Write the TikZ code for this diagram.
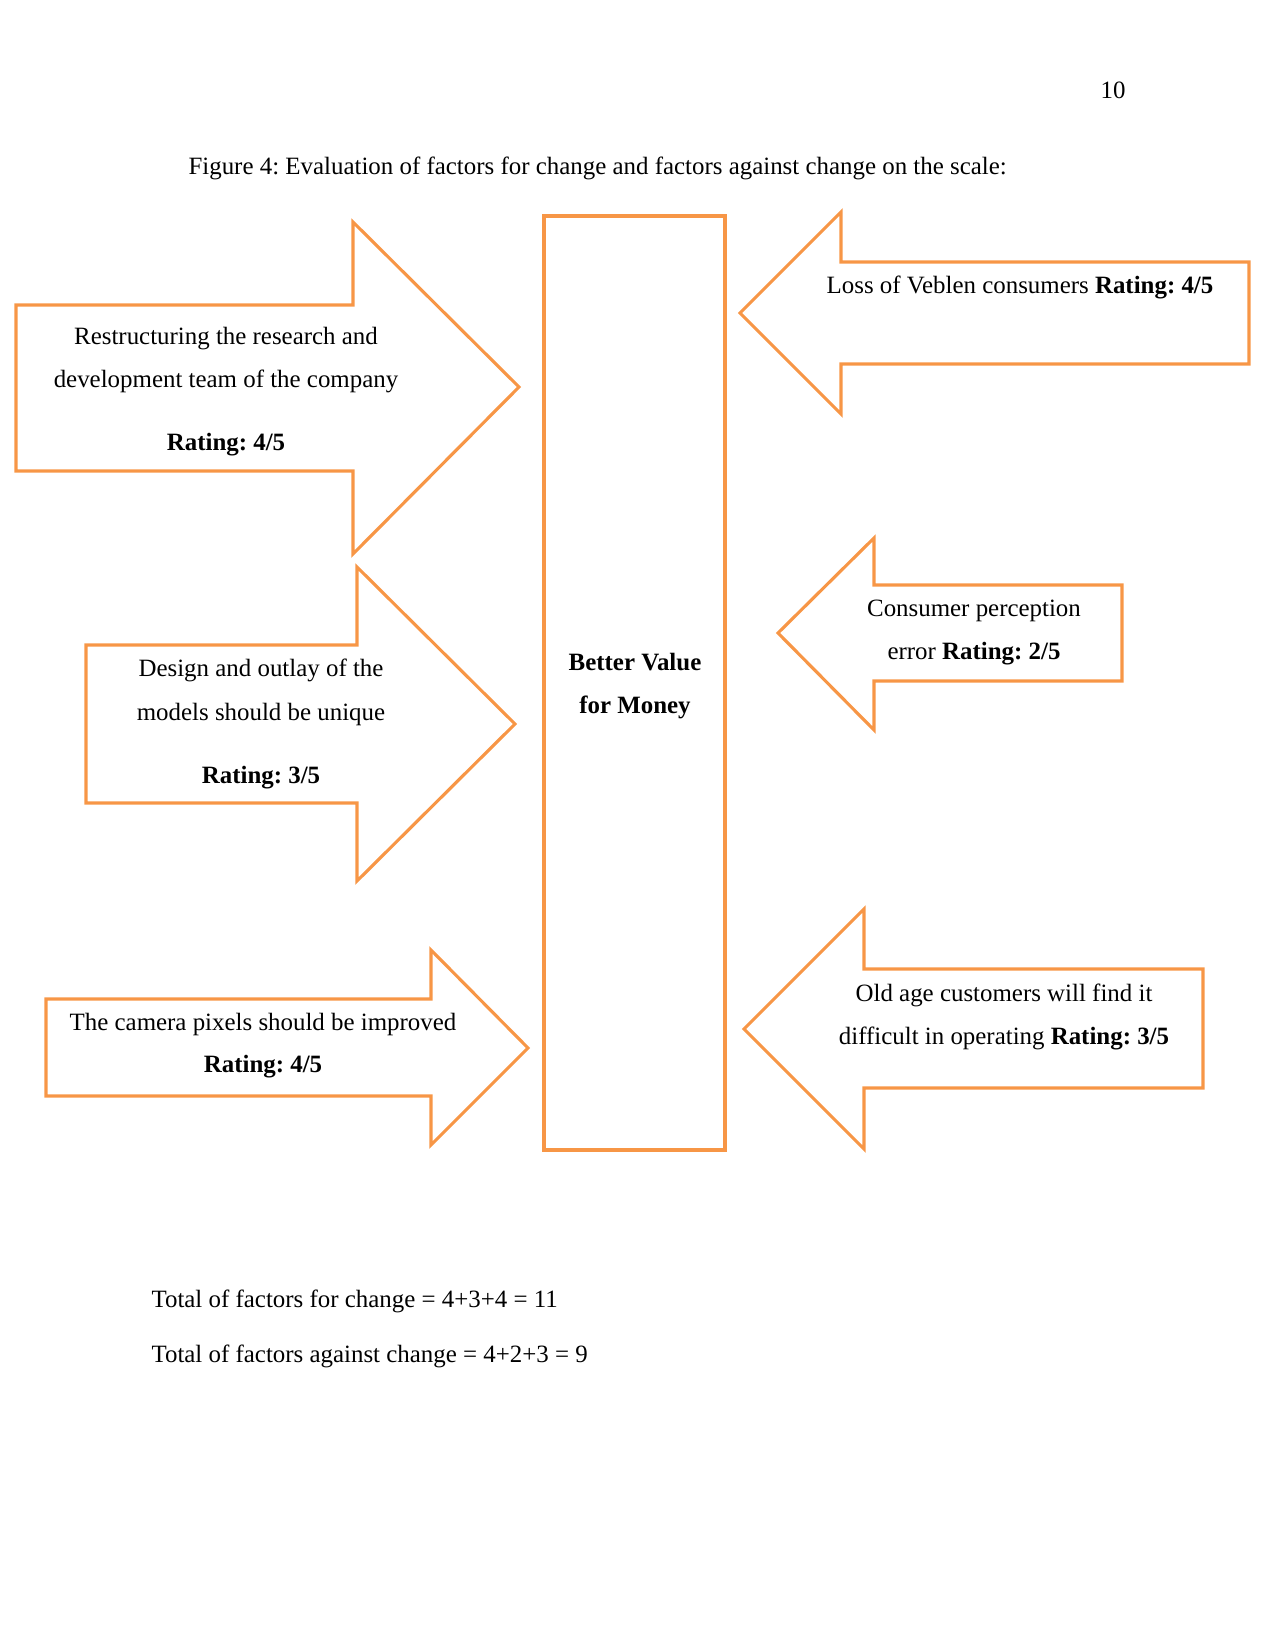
\documentclass[tikz,border=0pt]{standalone}
\usepackage{fontspec}
\setmainfont{Liberation Serif}
\frenchspacing
\definecolor{accent}{HTML}{F79646}

\begin{document}
\begin{tikzpicture}[x=0.16933mm,y=-0.16933mm,line width=1.5pt,line join=miter,
  fact/.style={draw=accent,line width=1.5pt},
  txt/.style={font=\fontsize{12}{14}\selectfont,inner sep=0pt,anchor=base},
  lbl/.style={txt,anchor=base west}]
\useasboundingbox (0,0) rectangle (1275,1651);
% page number and caption
\node[txt] (page) at (1113,98) {10};
\node[lbl] (cap) at (187,174) {Figure 4: Evaluation of factors for change and factors against change on the scale:};
% central box
\draw[fact] (544,216) rectangle (725,1150);
\node[txt,font=\fontsize{12}{14}\selectfont\bfseries] (val1) at (635,670) {Better Value};
\node[txt,font=\fontsize{12}{14}\selectfont\bfseries] (val2) at (635,713) {for Money};
% factors for change (left)
\draw[fact] (16,305) -- (353,305) -- (353,222) -- (519,387) -- (353,554) -- (353,471) -- (16,471) -- cycle;
\node[txt] (f1a) at (226,344) {Restructuring the research and};
\node[txt] (f1b) at (226,387) {development team of the company};
\node[txt] (f1c) at (226,450) {\bfseries Rating: 4/5};
\draw[fact] (86,645) -- (357,645) -- (357,567) -- (515,724) -- (357,881) -- (357,803) -- (86,803) -- cycle;
\node[txt] (f2a) at (261,676) {Design and outlay of the};
\node[txt] (f2b) at (261,720) {models should be unique};
\node[txt] (f2c) at (261,783) {\bfseries Rating: 3/5};
\draw[fact] (46,999) -- (431,999) -- (431,950) -- (528,1048) -- (431,1145) -- (431,1096) -- (46,1096) -- cycle;
\node[txt] (f3a) at (263,1030) {The camera pixels should be improved};
\node[txt] (f3b) at (263,1072) {\bfseries Rating: 4/5};
% factors against change (right)
\draw[fact] (1249,262) -- (841,262) -- (841,212) -- (740,313) -- (841,414) -- (841,364) -- (1249,364) -- cycle;
\node[txt] (a1) at (1020,293) {Loss of Veblen consumers \textbf{Rating: 4/5}};
\draw[fact] (1122,585) -- (874,585) -- (874,538) -- (778,633) -- (874,730) -- (874,681) -- (1122,681) -- cycle;
\node[txt] (a2a) at (974,616) {Consumer perception};
\node[txt] (a2b) at (974,659) {error \textbf{Rating: 2/5}};
\draw[fact] (1203,969) -- (864,969) -- (864,909) -- (744,1029) -- (864,1149) -- (864,1088) -- (1203,1088) -- cycle;
\node[txt] (a3a) at (1004,1001) {Old age customers will find it};
\node[txt] (a3b) at (1004,1044) {difficult in operating \textbf{Rating: 3/5}};
% totals
\node[lbl] (tot1) at (150,1307) {Total of factors for change = 4+3+4 = 11};
\node[lbl] (tot2) at (150,1362) {Total of factors against change = 4+2+3 = 9};
\end{tikzpicture}
\end{document}
